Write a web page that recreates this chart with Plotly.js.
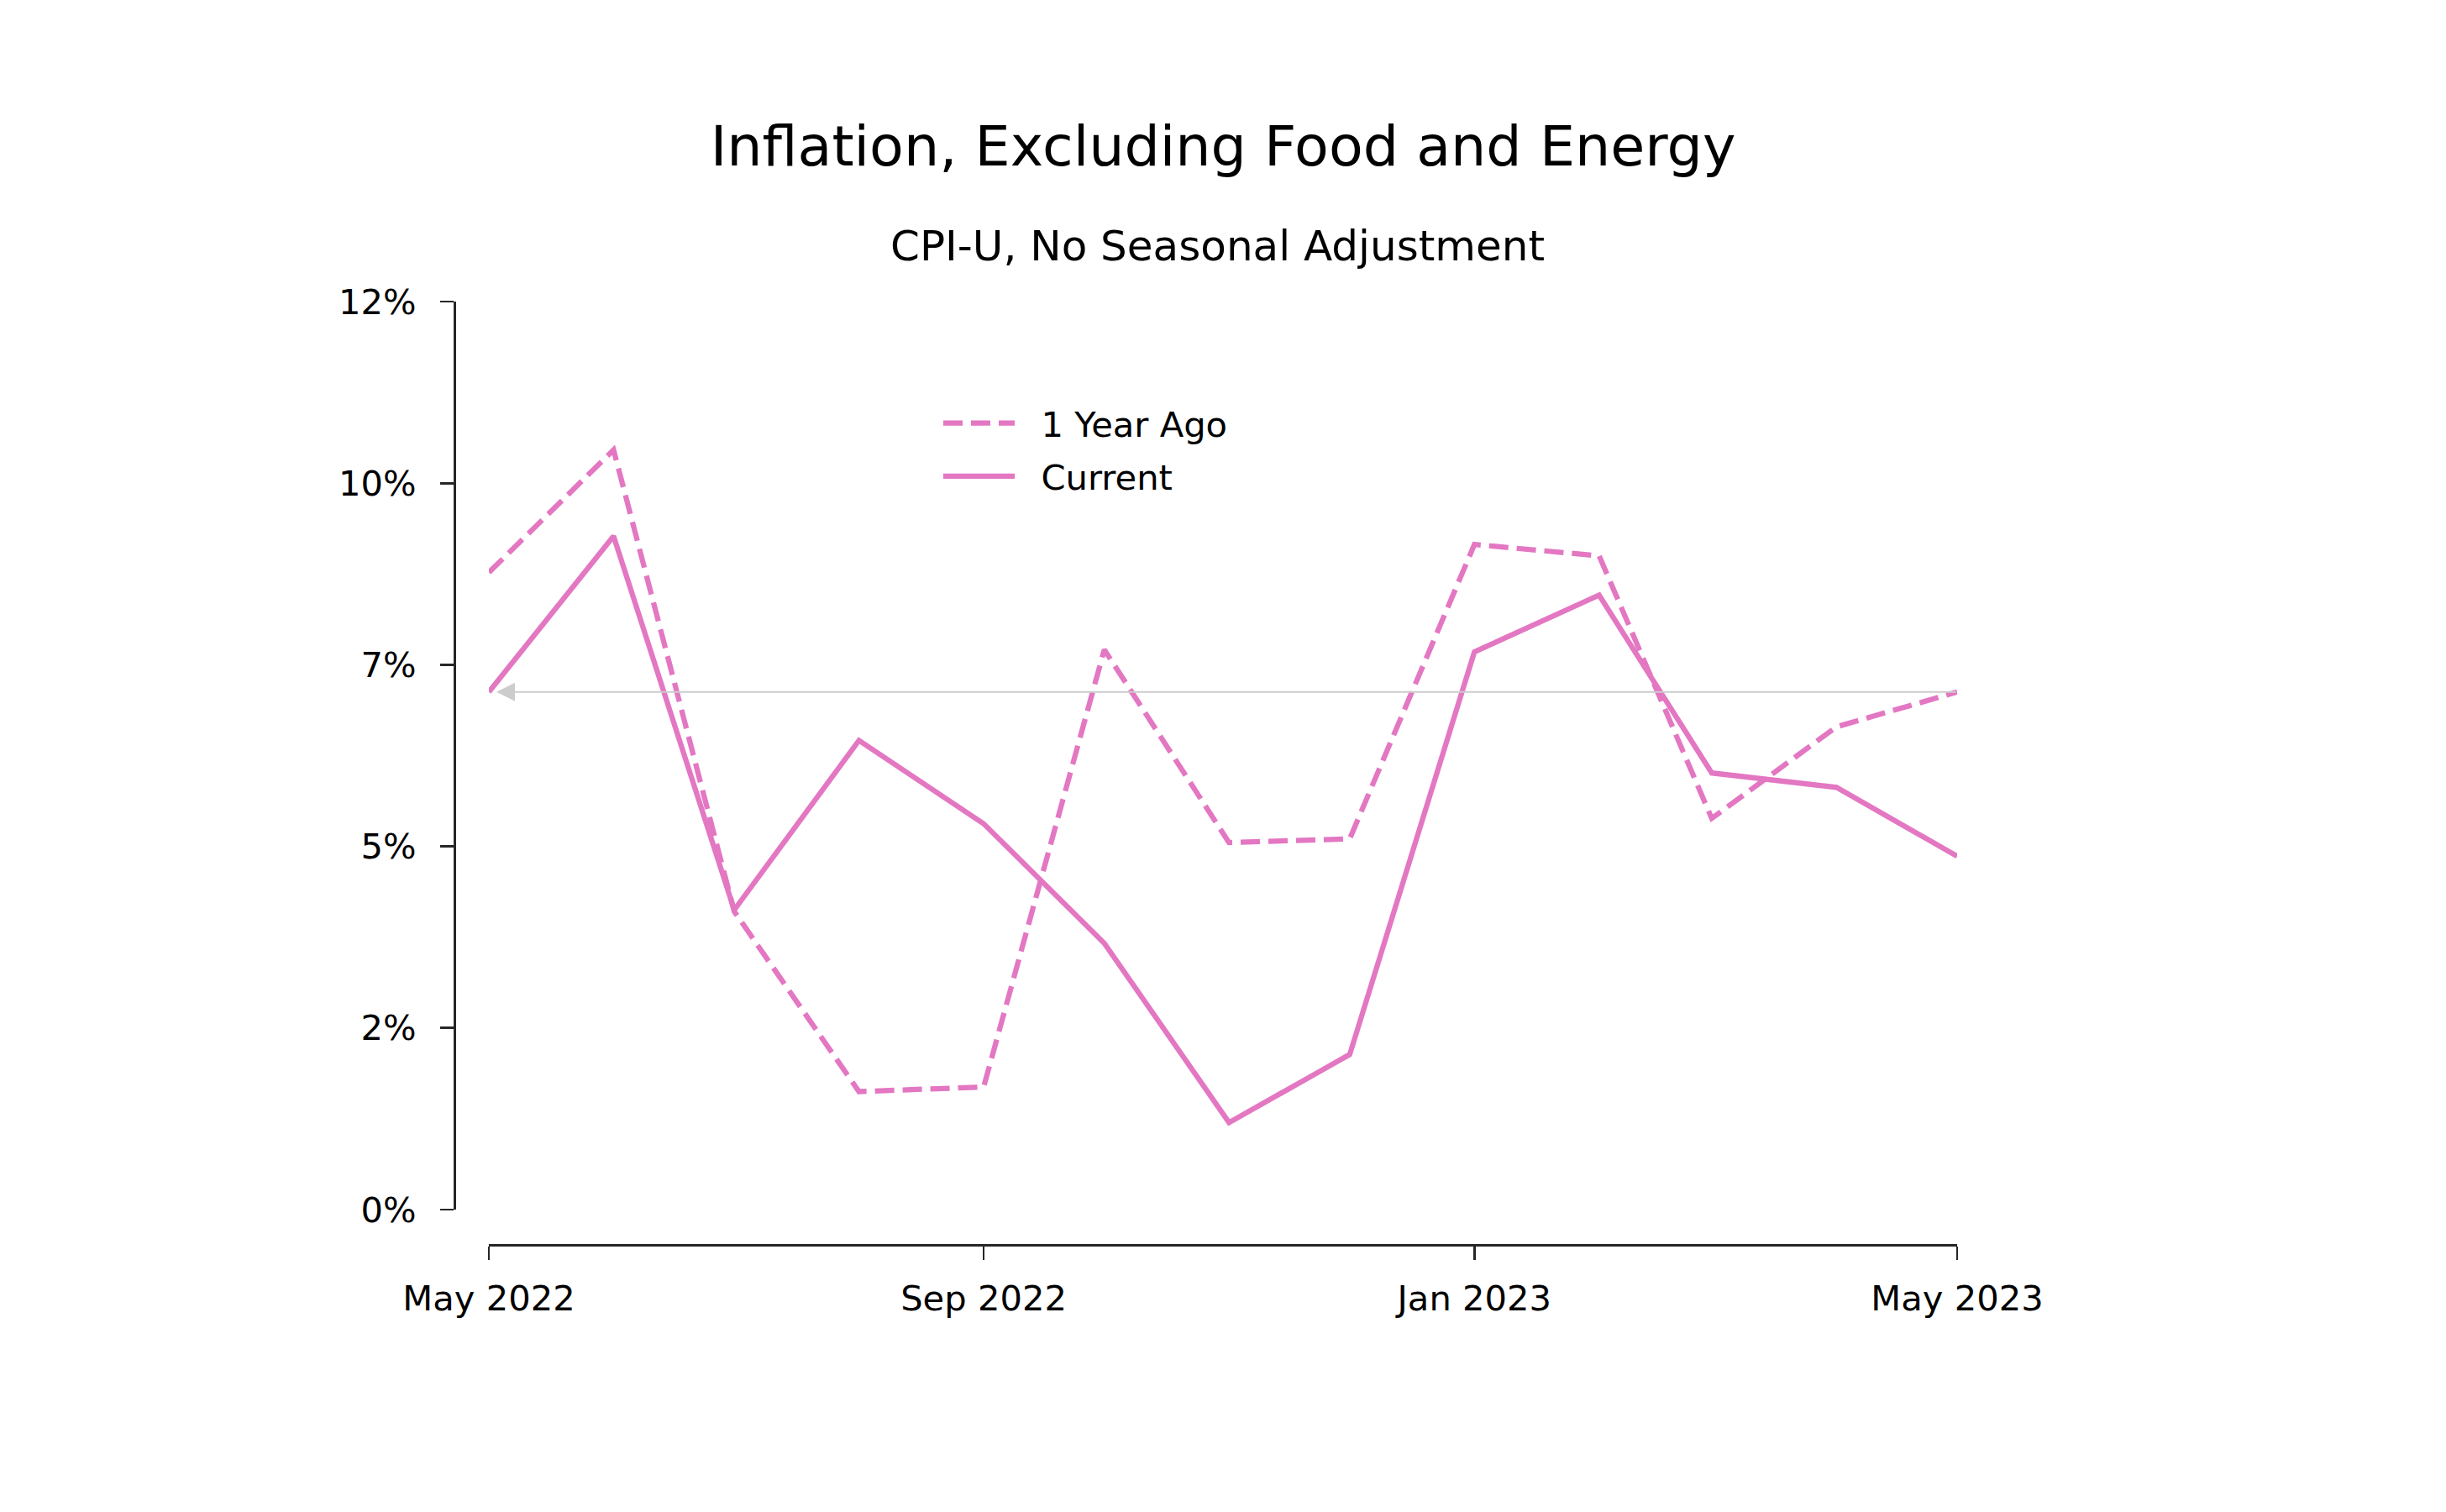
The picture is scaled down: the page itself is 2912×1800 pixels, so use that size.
<!DOCTYPE html>
<html>
<head>
<meta charset="utf-8">
<script src="https://cdn.plot.ly/plotly-3.0.1.min.js"></script>
<style>html,body{margin:0;padding:0;background:#fff;}#chart{width:2912px;height:1800px;}</style>
</head>
<body>
<div id="chart"></div>
<script>
// ---- data ----
const months = ['2022-05-01','2022-06-01','2022-07-01','2022-08-01','2022-09-01','2022-10-01','2022-11-01','2022-12-01','2023-01-01','2023-02-01','2023-03-01','2023-04-01','2023-05-01'];
const current = [0.0684, 0.0890, 0.0396, 0.0620, 0.0510, 0.0352, 0.0115, 0.0205, 0.0737, 0.0812, 0.0577, 0.0558, 0.0467];
const oneYearAgo = [0.0842, 0.1004, 0.0394, 0.0156, 0.0162, 0.0740, 0.0485, 0.0490, 0.0879, 0.0864, 0.0517, 0.0638, 0.0684];
const yTickVals = [0, 0.024, 0.048, 0.072, 0.096, 0.12];
const xTickVals = ['2022-05-01','2022-09-01','2023-01-01','2023-05-01'];
const xTickText = ['May 2022','Sep 2022','Jan 2023','May 2023'];
const seriesNames = ['1 Year Ago', 'Current'];
const titleText = 'Inflation, Excluding Food and Energy';
const subtitleText = 'CPI-U, No Seasonal Adjustment';

const pink = '#e377c2';
const axisColor = '#262626';
const FONT = 'DejaVu Sans, Verdana, sans-serif';
const NB = '\u00a0\u00a0';

const traces = [
  {x: months, y: oneYearAgo, name: NB + seriesNames[0], type: 'scatter', mode: 'lines',
   line: {color: pink, width: 6.25, dash: '23px,10px'}, legendgroup: 'a'},
  {x: months, y: current, name: NB + seriesNames[1], type: 'scatter', mode: 'lines',
   line: {color: pink, width: 6.25}, legendgroup: 'b'}
];

const layout = {
  width: 2912, height: 1800,
  paper_bgcolor: '#ffffff', plot_bgcolor: '#ffffff',
  margin: {l: 541, r: 582, t: 359, b: 318, pad: 0},
  font: {family: FONT, size: 41.67, color: '#000000'},
  hovermode: false,
  title: {text: titleText, font: {family: FONT, size: 66.7, color: '#000'},
          x: 0.5, xref: 'container', xanchor: 'center',
          y: 1 - 174/1800, yref: 'container', yanchor: 'middle'},
  xaxis: {
    type: 'date', range: [months[0], months[months.length-1]],
    domain: [41/1789, 1], anchor: 'free', position: 0,
    showgrid: false, zeroline: false,
    showline: true, linecolor: axisColor, linewidth: 2.7,
    ticks: 'outside', ticklen: 16, tickwidth: 2.7, tickcolor: axisColor,
    tickvals: xTickVals, ticktext: xTickText, ticklabelstandoff: 10,
    tickfont: {family: FONT, size: 41.67, color: '#000'}
  },
  yaxis: {
    range: [yTickVals[0], yTickVals[yTickVals.length-1]],
    domain: [42/1123, 1], anchor: 'free', position: 0,
    showgrid: false, zeroline: false,
    showline: true, linecolor: axisColor, linewidth: 2.7,
    ticks: 'outside', ticklen: 16, tickwidth: 2.7, tickcolor: axisColor,
    tickvals: yTickVals, tickformat: '.0%', ticklabelstandoff: 20,
    tickfont: {family: FONT, size: 41.67, color: '#000'}
  },
  showlegend: true,
  legend: {
    xref: 'paper', yref: 'paper',
    x: (1118-541)/1789, xanchor: 'left',
    y: (1482-470)/1123, yanchor: 'top',
    bgcolor: 'rgba(0,0,0,0)', borderwidth: 0,
    traceorder: 'grouped', tracegroupgap: 6, itemwidth: 85,
    font: {family: FONT, size: 41.67, color: '#000'}
  },
  annotations: [
    {text: subtitleText, xref: 'paper', yref: 'paper', x: (1449-541)/1789, xanchor: 'center',
     y: (1482-293)/1123, yanchor: 'middle', showarrow: false,
     font: {family: FONT, size: 50, color: '#000'}},
    {text: '', xref: 'x', yref: 'y', x: months[0], y: current[0],
     axref: 'x', ayref: 'y', ax: months[months.length-1], ay: oneYearAgo[oneYearAgo.length-1],
     showarrow: true, arrowhead: 2, arrowsize: 2.2, arrowwidth: 2, arrowcolor: '#cccccc', standoff: 9}
  ]
};

Plotly.newPlot('chart', traces, layout, {displayModeBar: false, staticPlot: true});
</script>
</body>
</html>
